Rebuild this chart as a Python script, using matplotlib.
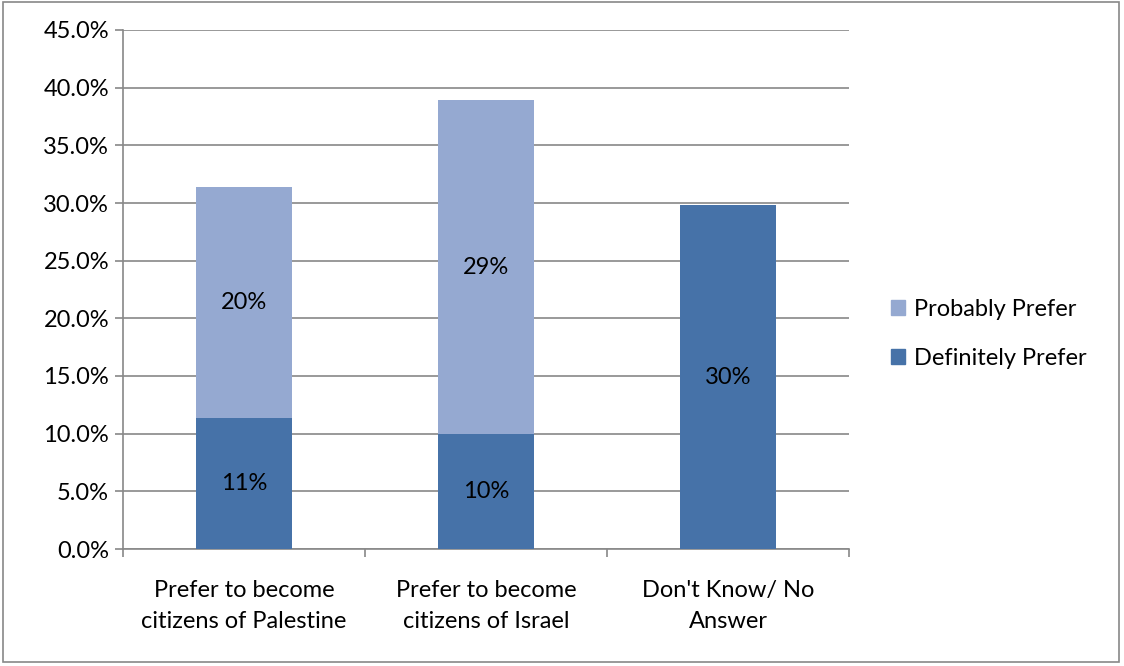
import matplotlib
matplotlib.use("Agg")
import matplotlib.pyplot as plt
from matplotlib.patches import Rectangle, Patch
from matplotlib.ticker import PercentFormatter
import numpy as np

categories = ["Prefer to become\ncitizens of Palestine", "Prefer to become\ncitizens of Israel", "Don't Know/ No\nAnswer"]
definitely = [11.4, 10.0, 29.8]
probably = [20.0, 28.9, 0.0]
def_labels = ["11%", "10%", "30%"]
prob_labels = ["20%", "29%", ""]

plt.rcParams['font.family'] = ['Lato', 'DejaVu Sans']
dark = "#4672A8"
light = "#95A9D1"
grid_c = "#888888"
fs = 17

fig = plt.figure(figsize=(11.24, 6.66), dpi=100)
ax = fig.add_axes([123/1124, 1-549/666, (849-123)/1124, (549-30)/666])

x = np.arange(len(categories))
ax.bar(x, definitely, width=0.4, color=dark, zorder=3)
ax.bar(x, probably, width=0.4, bottom=definitely, color=light, zorder=3)

for i in range(len(categories)):
    ax.text(x[i], definitely[i]/2, def_labels[i], ha='center', va='center', fontsize=fs, color='black', zorder=4)
    if prob_labels[i]:
        ax.text(x[i], definitely[i] + probably[i]/2, prob_labels[i], ha='center', va='center', fontsize=fs, color='black', zorder=4)

ax.set_xlim(-0.5, 2.5)
ax.set_ylim(0, 45)
ax.set_yticks(np.arange(0, 46, 5))
ax.yaxis.set_major_formatter(PercentFormatter(decimals=1))
ax.grid(axis='y', color=grid_c, linewidth=1.2, zorder=0)
ax.set_axisbelow(True)

ax.set_xticks([-0.5, 0.5, 1.5, 2.5])
ax.set_xticklabels([])
ax.set_xticks(x, minor=True)
ax.set_xticklabels(categories, minor=True, fontsize=fs, linespacing=1.6)
ax.tick_params(axis='x', which='minor', length=0, pad=22)
ax.tick_params(axis='x', which='major', length=6, color=grid_c, width=1.2)
ax.tick_params(axis='y', length=6, color=grid_c, width=1.2, labelsize=fs, pad=4)

for s in ['top', 'right']:
    ax.spines[s].set_visible(False)
for s in ['left', 'bottom']:
    ax.spines[s].set_color(grid_c)
    ax.spines[s].set_linewidth(1.2)

handles = [Patch(color=light), Patch(color=dark)]
fig.legend(handles, ["Probably Prefer", "Definitely Prefer"], loc='center left',
           bbox_to_anchor=(870/1124, 1-334/666), frameon=False, fontsize=fs,
           handlelength=0.6, handleheight=0.6, handletextpad=0.35, labelspacing=1.2)

fig.patches.append(Rectangle((3/1124, 4/666), 1116/1124, 660/666, transform=fig.transFigure,
                             fill=False, edgecolor=grid_c, linewidth=1.2))

fig.savefig("out.png", dpi=100)
